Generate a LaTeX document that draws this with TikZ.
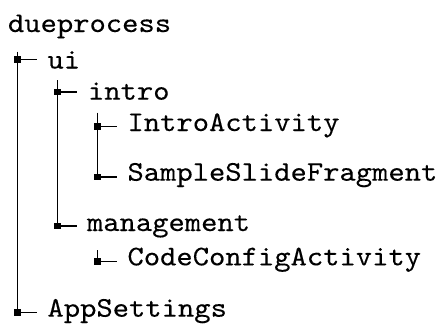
\documentclass[tikz,border=0pt]{standalone}
\usepackage{fontspec}
\newfontfamily\treefont{lmmono10-regular}[Extension=.otf, FakeStretch=1.09, FakeBold=0.2]
\begin{document}
\begin{tikzpicture}[x=1pt, y=-1pt,
  label/.style={anchor=base west, inner sep=0pt, outer sep=0pt,
    font=\treefont\fontsize{28.5}{32}\selectfont},
  branch/.style={line width=1.2pt, black},
  marker/.style={fill=black, minimum size=6.5pt, inner sep=0pt, outer sep=0pt, draw=none}]
\useasboundingbox (0,0) rectangle (441,324);

% labels, placed at their baselines
\node[label] (root) at (8,32) {dueprocess};
\node[label] (ui) at (47.5,68.5) {ui};
\node[label] (intro) at (88,99.7) {intro};
\node[label] (introact) at (127.5,131) {IntroActivity};
\node[label] (sample) at (127.5,180.7) {SampleSlideFragment};
\node[label] (mgmt) at (87,231) {management};
\node[label] (codecfg) at (127.5,265.3) {CodeConfigActivity};
\node[label] (appset) at (47.5,316.7) {AppSettings};

% square junction markers
\node[marker] (mui) at (17.3,59.3) {};
\node[marker] (mintro) at (57.3,92) {};
\node[marker] (mintroact) at (97.3,126.7) {};
\node[marker] (msample) at (97.3,177) {};
\node[marker] (mmgmt) at (57.3,226) {};
\node[marker] (mcodecfg) at (97.3,261.5) {};
\node[marker] (mappset) at (17.3,312.5) {};

% tops of the vertical rails
\coordinate (t1) at (17.3,51.7);
\coordinate (t2) at (57.3,80);
\coordinate (t3) at (97.3,112.7);
\coordinate (t4) at (97.3,250);

% vertical rails
\draw[branch] (t1) -- (mappset.center);
\draw[branch] (t2) -- (mmgmt.center);
\draw[branch] (t3) -- (msample.center);
\draw[branch] (t4) -- (mcodecfg.center);

% horizontal ticks
\coordinate (e1) at (36.7,59.3);
\coordinate (e2) at (76.7,92);
\coordinate (e3) at (116.7,126.7);
\coordinate (e4) at (116.7,177);
\coordinate (e5) at (76.7,226);
\coordinate (e6) at (116.7,261.5);
\coordinate (e7) at (36.7,312.5);
\draw[branch] (mui.center) -- (e1);
\draw[branch] (mintro.center) -- (e2);
\draw[branch] (mintroact.center) -- (e3);
\draw[branch] (msample.center) -- (e4);
\draw[branch] (mmgmt.center) -- (e5);
\draw[branch] (mcodecfg.center) -- (e6);
\draw[branch] (mappset.center) -- (e7);
\end{tikzpicture}
\end{document}
